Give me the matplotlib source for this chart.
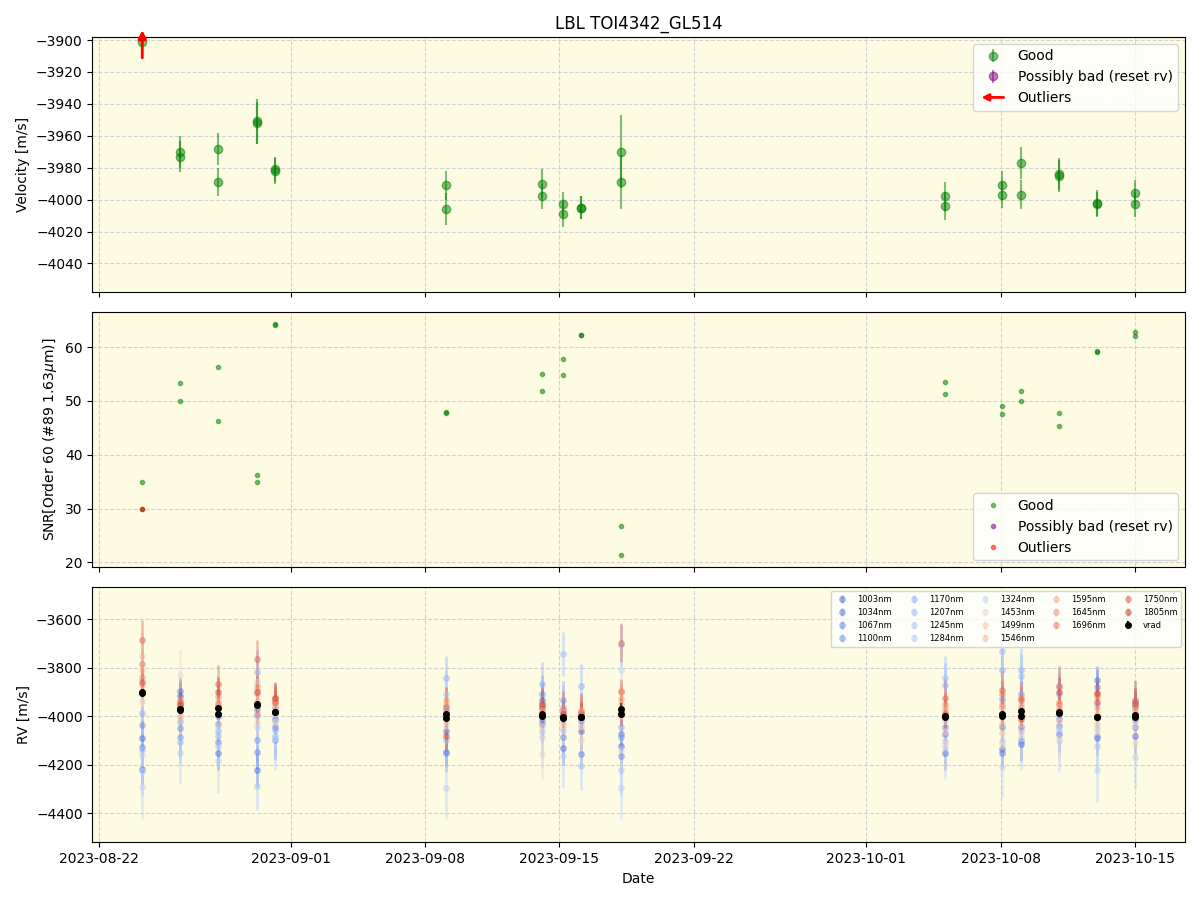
import numpy as np
import pandas as pd
import matplotlib
matplotlib.use('Agg')
import matplotlib.pyplot as plt
from matplotlib.lines import Line2D
from matplotlib.patches import FancyArrowPatch
from matplotlib.legend_handler import HandlerBase

# Observation epochs (two exposures per night)
epochs = ['2023-08-24 05:45', '2023-08-26 05:15', '2023-08-28 04:50', '2023-08-30 05:30',
          '2023-08-31 04:05', '2023-09-09 01:40', '2023-09-14 02:25', '2023-09-15 04:35',
          '2023-09-16 02:25', '2023-09-18 04:35', '2023-10-05 02:25', '2023-10-08 01:55',
          '2023-10-09 01:40', '2023-10-11 01:10', '2023-10-13 00:45', '2023-10-15 00:15']

# Velocity per exposure (pairs per epoch)
rv = [-3901, -3903, -3970, -3973, -3968, -3989, -3951, -3952,
      -3981, -3982, -3991, -4006, -3990, -3998, -4003, -4009,
      -4005, -4005, -3970, -3989, -3998, -4004, -3991, -3997,
      -3977, -3997, -3984, -3985, -4002, -4003, -3996, -4003]
rv_err = [8, 8, 10, 10, 10, 9, 14, 13,
          8, 8, 9, 10, 9, 8, 8, 8,
          7, 7, 23, 17, 9, 9, 9, 8,
          10, 9, 10, 10, 8, 8, 8, 8]
snr = [35.0, 30.0, 53.3, 49.9, 56.3, 46.3, 36.3, 35.0,
       64.2, 64.1, 48.0, 47.8, 55.0, 51.9, 57.8, 54.8,
       62.2, 62.2, 26.7, 21.4, 53.5, 51.3, 49.0, 47.6,
       51.9, 50.0, 47.8, 45.4, 59.3, 59.1, 62.7, 62.1]
outlier_idx = [1]
outlier_tip = [-3892]

# Per-band RV, one value per epoch
wavelengths = [1003, 1034, 1067, 1100, 1170, 1207, 1245, 1284, 1324,
               1453, 1499, 1546, 1595, 1645, 1696, 1750, 1805]
band_err = [70, 60, 70, 80, 90, 90, 100, 130, 110, 100, 80, 70, 60, 50, 50, 80, 60]
rv_1003 = [-4091, -3918, -4150, -4223, -4010, -4060, -3931, -4130, -4060, -4124, -4150, -4137, -4116, -4074, -4090, -4080]
rv_1034 = [-4219, -3897, -4000, -3972, -4044, -4147, -4016, -4010, -4154, -4074, -4074, -4150, -4044, -4040, -3851, -4046]
rv_1067 = [-4128, -4048, -4106, -4146, -3964, -3975, -4032, -4085, -4020, -4165, -4044, -4044, -4100, -4010, -3880, -3960]
rv_1100 = [-4037, -4085, -4030, -4096, -4099, -4150, -3909, -3934, -3990, -4085, -3990, -3930, -3910, -3990, -4080, -4010]
rv_1170 = [-3986, -4024, -4060, -3817, -4057, -3841, -3868, -3962, -3876, -4044, -3872, -3808, -3808, -3910, -3950, -3940]
rv_1207 = [-4140, -4106, -4081, -4000, -4081, -4096, -3960, -3744, -4000, -3707, -3841, -3732, -3835, -3880, -4000, -3990]
rv_1245 = [-4226, -3960, -4122, -4288, -4020, -3909, -4060, -4057, -4205, -4223, -4100, -4100, -4060, -4060, -4124, -4020]
rv_1284 = [-4293, -4150, -4186, -4044, -4090, -4294, -4085, -4165, -4040, -4294, -4130, -4209, -4090, -4100, -4223, -4168]
rv_1324 = [-4161, -4003, -4048, -3854, -3990, -3960, -4000, -3980, -4010, -3810, -4020, -3960, -3950, -4050, -4050, -4000]
rv_1453 = [-3753, -3828, -3990, -4024, -4024, -4040, -4157, -4040, -4096, -4140, -4116, -4120, -4070, -4090, -4060, -4110]
rv_1499 = [-3938, -3990, -3955, -3934, -3960, -4023, -4040, -4026, -4044, -4000, -4060, -4070, -4030, -4020, -4030, -4040]
rv_1546 = [-3808, -4010, -3938, -3907, -3950, -3990, -3985, -3995, -3985, -3950, -3975, -4030, -4000, -3960, -3990, -3990]
rv_1595 = [-3872, -3960, -3985, -3893, -3945, -3951, -3975, -3985, -3975, -3930, -3960, -3960, -3975, -3940, -3965, -3975]
rv_1645 = [-3840, -3934, -3915, -3875, -3934, -3931, -3965, -3990, -3980, -3900, -3950, -3950, -3960, -3975, -3920, -3960]
rv_1696 = [-3786, -3948, -3950, -3989, -3923, -3990, -3948, -4000, -3995, -3896, -3985, -3907, -3925, -3950, -3910, -3950]
rv_1750 = [-3684, -3940, -3869, -3766, -3940, -3960, -3960, -3975, -3985, -3698, -3923, -3893, -3935, -3876, -3940, -3934]
rv_1805 = [-3860, -3955, -3900, -3900, -3925, -4082, -3950, -3990, -4000, -3980, -3995, -3990, -4010, -3900, -3905, -3945]
band_rv = [rv_1003, rv_1034, rv_1067, rv_1100, rv_1170, rv_1207, rv_1245, rv_1284, rv_1324,
           rv_1453, rv_1499, rv_1546, rv_1595, rv_1645, rv_1696, rv_1750, rv_1805]

# times: each epoch + second exposure 15 min later
t_epoch = pd.to_datetime(epochs)
t = []
for e in t_epoch:
    t.append(e)
    t.append(e + pd.Timedelta(minutes=15))
t = pd.DatetimeIndex(t)
good = [i for i in range(len(t)) if i not in outlier_idx]

bg = '#fdfbe2'
green = 'green'


class ArrowHandler(HandlerBase):
    def create_artists(self, legend, orig_handle, xdescent, ydescent,
                       width, height, fontsize, trans):
        y = height / 2 - ydescent
        arr = FancyArrowPatch((width - xdescent, y), (-xdescent, y),
                              arrowstyle='-|>', mutation_scale=10,
                              color='red', lw=2, transform=trans)
        return [arr]


fig, (ax1, ax2, ax3) = plt.subplots(3, 1, figsize=(12, 9), dpi=100, sharex=True)
fig.subplots_adjust(left=0.077, right=0.9875, top=0.959, bottom=0.064, hspace=0.078)

for ax in (ax1, ax2, ax3):
    ax.set_facecolor(bg)
    ax.grid(True, linestyle='--', color='#c8c8d2', alpha=0.8)
    ax.set_axisbelow(True)

# Panel 1: velocity
ax1.errorbar(t[good], np.array(rv)[good], yerr=np.array(rv_err)[good], fmt='o',
             color=green, ms=6, alpha=0.5, label='Good')
ax1.errorbar([], [], yerr=[], fmt='o', color='purple', ms=6, alpha=0.5,
             label='Possibly bad (reset rv)')
for i, tip in zip(outlier_idx, outlier_tip):
    ax1.annotate('', xy=(t[i], tip), xytext=(0, -24), textcoords='offset points',
                 arrowprops=dict(arrowstyle='-|>', color='red', lw=2, mutation_scale=12),
                 annotation_clip=False)
h1, l1 = ax1.get_legend_handles_labels()
arrow_handle = Line2D([], [], color='red')
ax1.legend(h1 + [arrow_handle], l1 + ['Outliers'], loc='upper right',
           handler_map={arrow_handle: ArrowHandler()})
ax1.set_ylim(-4058, -3898)
ax1.set_yticks(np.arange(-4040, -3899, 20))
ax1.set_ylabel('Velocity [m/s]')
ax1.set_title('LBL TOI4342_GL514')

# Panel 2: SNR
ax2.plot(t, snr, 'o', color=green, ms=3, alpha=0.5, label='Good')
ax2.plot([], [], 'o', color='purple', ms=3, alpha=0.5, label='Possibly bad (reset rv)')
ax2.plot(t[outlier_idx], np.array(snr)[outlier_idx], 'o', color='red', ms=3,
         alpha=0.5, label='Outliers')
ax2.legend(loc='lower right')
ax2.set_ylim(19.1, 66.5)
ax2.set_ylabel('SNR[Order 60 (#89 1.63$\\mu$m)]')

# Panel 3: per-band RV
cmap = plt.get_cmap('coolwarm')
wmin, wmax = min(wavelengths), max(wavelengths)
for w, vals, err in zip(wavelengths, band_rv, band_err):
    c = cmap(0.08 + 0.84 * (w - wmin) / (wmax - wmin))
    ax3.errorbar(t_epoch, vals, yerr=err, fmt='o', color=c, ms=4, lw=2,
                 alpha=0.4, label='%inm' % w)
ax3.errorbar(t, rv, yerr=rv_err, fmt='o', color='black', ms=4, label='vrad')
ax3.legend(loc='upper right', ncol=5, fontsize=6, columnspacing=1.6)
ax3.set_ylim(-4520, -3468)
ax3.set_ylabel('RV [m/s]')
ax3.set_xlabel('Date')

plt.savefig('out.png', dpi=100)
